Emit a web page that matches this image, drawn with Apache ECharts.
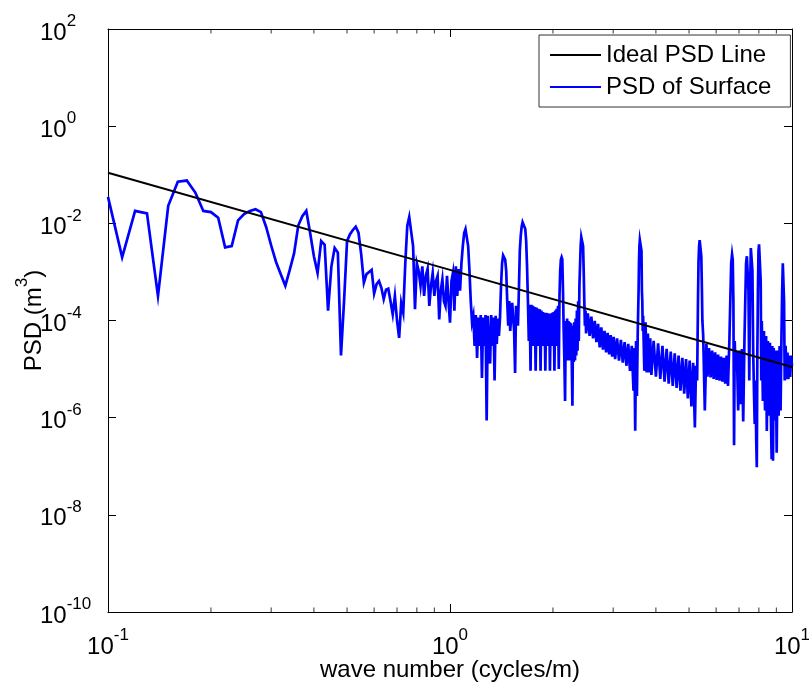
<!DOCTYPE html>
<html>
<head>
<meta charset="utf-8">
<script src="https://cdn.jsdelivr.net/npm/echarts@6/dist/echarts.min.js"></script>
<style>
html,body{margin:0;padding:0;background:#fff;}
#chart{width:809px;height:688px;}
</style>
</head>
<body>
<div id="chart"></div>
<script>
// ---- data ----
const seriesNames = ['Ideal PSD Line', 'PSD of Surface'];
const idealWaveNumber = [0.1, 1, 10];
const idealPSD = [0.11, 1.1e-3, 1.1e-5];

// [wave number (cycles/m), PSD (m^3)]
const surfacePSD = [
[0.10,3.5e-2],[0.11,2.0e-3],[0.12,1.8e-2],[0.13,1.6e-2],[0.14,3.2e-4],[0.15,2.3e-2],[0.16,7.2e-2],[0.17,7.6e-2],
[0.18,4.3e-2],[0.19,1.8e-2],[0.20,1.7e-2],[0.21,1.3e-2],[0.22,3.2e-3],[0.23,3.4e-3],[0.24,1.15e-2],[0.25,1.55e-2],
[0.26,1.8e-2],[0.27,1.95e-2],[0.28,1.7e-2],[0.29,8.4e-3],[0.30,3.5e-3],[0.31,1.6e-3],[0.32,9e-4],[0.33,5.2e-4],
[0.34,1.1e-3],[0.35,2.4e-3],[0.36,9e-3],[0.37,1.4e-2],[0.38,1.8e-2],[0.39,6.3e-3],[0.40,2.1e-3],[0.41,9.5e-4],
[0.42,4.3e-3],[0.43,3.6e-3],[0.44,1.6e-4],[0.45,1.3e-3],[0.46,3.1e-3],[0.47,2.5e-3],[0.48,1.9e-5],[0.49,2.5e-4],
[0.50,4.3e-3],[0.51,6e-3],[0.52,7.3e-3],[0.53,8.5e-3],[0.54,6.4e-3],[0.55,2.3e-3],[0.56,6e-4],[0.57,9e-4],
[0.58,1.0e-3],[0.59,1.1e-3],[0.60,3.6e-4],[0.61,5.6e-4],[0.62,6.5e-4],[0.63,4.7e-4],[0.64,2.75e-4],[0.65,4.3e-4],
[0.66,4.5e-4],[0.67,2.5e-4],[0.68,1.35e-4],[0.69,3.2e-4],[0.70,1.0e-4],[0.71,4.4e-5],[0.72,2.3e-4],[0.73,1.45e-4],
[0.74,1.5e-3],[0.75,8.8e-3],[0.76,1.35e-2],[0.77,1.3e-2],[0.78,3.4e-3],[0.79,1.7e-4],[0.80,1.5e-3],[0.81,1.05e-3],
[0.82,5.2e-4],[0.83,1.3e-3],[0.84,3.2e-4],[0.85,8.3e-4],[0.86,1.15e-3],[0.87,2.0e-4],[0.88,5.2e-4],[0.89,9.5e-4],
[0.90,3.2e-4],[0.91,6.5e-4],[0.92,8.3e-4],[0.93,1.05e-4],[0.94,4.1e-4],[0.95,7e-4],[0.96,2.5e-4],[0.97,2.0e-4],
[0.98,8.3e-4],[0.99,2.5e-4],[1.00,9e-5],[1.01,6.5e-4],[1.02,9.5e-4],[1.03,1.6e-4],[1.04,1.3e-3],[1.05,3.2e-4],
[1.06,1.15e-3],[1.07,4.1e-4],[1.08,1.5e-3],[1.09,3.4e-3],[1.10,6.3e-3],[1.11,7.6e-3],[1.12,7.3e-3],[1.13,3.4e-3],
[1.14,1.05e-3],[1.15,2.5e-4],[1.16,9.2e-5],[1.17,1.25e-4],[1.18,3.0e-5],[1.19,1.3e-4],[1.20,1.7e-5],[1.21,1.15e-4],
[1.22,3.0e-5],[1.23,1.3e-4],[1.24,6.6e-6],[1.25,1.15e-4],[1.26,3.0e-5],[1.27,1.3e-4],[1.28,8.7e-7],[1.29,1.25e-4],
[1.30,3.0e-5],[1.31,1.3e-5],[1.32,1.3e-4],[1.33,3.0e-5],[1.34,1.15e-4],[1.35,5.8e-6],[1.36,1.25e-4],[1.37,3.3e-5],
[1.38,1.1e-4],[1.39,4.8e-5],[1.40,1.1e-4],[1.41,5.2e-4],[1.42,1.5e-3],[1.43,2.2e-3],[1.44,2.4e-3],[1.45,1.8e-3],
[1.46,1.05e-3],[1.47,2.5e-4],[1.48,7.8e-5],[1.49,2.5e-4],[1.50,6.1e-5],[1.52,2.3e-4],[1.54,6.1e-5],[1.55,8.3e-6],
[1.56,2.0e-4],[1.58,7.8e-5],[1.59,4.1e-4],[1.60,2.7e-3],[1.61,5.5e-3],[1.62,8.5e-3],[1.63,1.05e-2],[1.64,1.12e-2],
[1.65,1.05e-2],[1.66,7.6e-3],[1.67,4.3e-3],[1.68,1.3e-3],[1.69,2.5e-4],[1.70,3.8e-5],[1.71,2.1e-4],[1.72,9.2e-6],
[1.73,2.1e-4],[1.74,3.0e-5],[1.75,2.0e-4],[1.76,3.0e-5],[1.77,1.9e-4],[1.78,9.2e-6],[1.79,1.85e-4],[1.80,3.0e-5],
[1.81,1.75e-4],[1.82,3.0e-5],[1.83,1.7e-4],[1.84,9.2e-6],[1.85,1.6e-4],[1.86,3.0e-5],[1.87,1.5e-4],[1.88,3.0e-5],
[1.89,1.45e-4],[1.90,9.2e-6],[1.91,1.45e-4],[1.92,3.0e-5],[1.93,1.4e-4],[1.94,3.0e-5],[1.95,1.4e-4],[1.96,9.2e-6],
[1.97,1.4e-4],[1.98,3.0e-5],[1.99,1.45e-4],[2.00,3.0e-5],[2.01,1.5e-4],[2.02,9.2e-6],[2.03,1.6e-4],[2.04,3.0e-5],
[2.05,1.75e-4],[2.06,3.0e-5],[2.07,2.0e-4],[2.08,1.0e-5],[2.09,3.2e-4],[2.10,1.05e-3],[2.11,1.8e-3],[2.12,2.0e-3],
[2.13,1.8e-3],[2.14,4.1e-4],[2.15,6.1e-5],[2.16,1.5e-5],[2.17,2.2e-6],[2.18,9.8e-5],[2.19,1.5e-5],[2.20,1.1e-4],
[2.21,1.6e-5],[2.22,9.8e-5],[2.23,1.5e-5],[2.24,9.2e-5],[2.25,1.5e-5],[2.26,8.8e-5],[2.27,1.4e-5],[2.28,1.77e-6],
[2.29,7.8e-5],[2.30,1.4e-5],[2.31,9.2e-5],[2.32,1.5e-5],[2.33,1.1e-4],[2.34,1.9e-5],[2.35,1.6e-4],[2.36,2.4e-5],
[2.37,2.5e-4],[2.38,3.8e-5],[2.39,5.2e-4],[2.40,1.3e-3],[2.41,3.4e-3],[2.42,5.2e-3],[2.43,5.7e-3],[2.44,5.2e-3],
[2.45,3.4e-3],[2.46,1.05e-3],[2.47,2.5e-4],[2.48,7.8e-5],[2.49,1.6e-4],[2.50,5.4e-5],[2.53,1.4e-4],[2.56,4.8e-5],
[2.59,1.2e-4],[2.62,4.3e-5],[2.65,9.8e-5],[2.68,3.6e-5],[2.71,8.5e-5],[2.74,2.8e-5],[2.77,7.2e-5],[2.80,2.5e-5],
[2.83,6.1e-5],[2.86,2.2e-5],[2.89,5.6e-5],[2.92,2.0e-5],[2.95,5.0e-5],[2.98,1.8e-5],[3.01,4.6e-5],[3.04,1.6e-5],
[3.08,4.3e-5],[3.12,1.5e-5],[3.16,4.0e-5],[3.20,1.35e-5],[3.24,3.6e-5],[3.28,1.17e-5],[3.32,3.3e-5],[3.36,9.2e-6],
[3.40,3.0e-5],[3.44,3.6e-6],[3.46,2.7e-5],[3.48,5.4e-7],[3.50,3.8e-5],[3.52,2.8e-6],[3.54,6.1e-5],[3.56,4.1e-4],
[3.57,1.7e-3],[3.58,3.4e-3],[3.59,4.5e-3],[3.60,4.7e-3],[3.61,4.7e-3],[3.62,4.3e-3],[3.63,2.7e-3],[3.64,4.1e-4],
[3.65,2.5e-4],[3.66,6.1e-5],[3.67,1.25e-4],[3.70,9.2e-6],[3.73,9.2e-5],[3.76,8.5e-6],[3.79,5.4e-5],[3.82,8.5e-6],
[3.85,4.3e-5],[3.88,7.6e-6],[3.94,3.8e-5],[4.00,7.0e-6],[4.06,3.4e-5],[4.12,6.3e-6],[4.18,3.0e-5],[4.24,5.5e-6],
[4.30,2.6e-5],[4.36,5.0e-6],[4.42,2.3e-5],[4.48,4.5e-6],[4.54,2.1e-5],[4.60,4.1e-6],[4.66,1.9e-5],[4.72,3.6e-6],
[4.78,1.7e-5],[4.84,3.1e-6],[4.90,1.6e-5],[4.96,2.5e-6],[5.02,1.5e-5],[5.08,1.7e-6],[5.14,1.35e-5],[5.20,6.3e-7],
[5.24,1.17e-5],[5.28,5.8e-6],[5.31,2.5e-4],[5.33,1.7e-3],[5.35,3.4e-3],[5.37,4.5e-3],[5.39,4.7e-3],[5.41,4.3e-3],
[5.43,2.1e-3],[5.45,5.2e-4],[5.47,9.8e-5],[5.50,4.8e-5],[5.56,1.4e-6],[5.62,3.3e-5],[5.66,7.0e-6],[5.72,2.7e-5],
[5.78,6.7e-6],[5.84,2.4e-5],[5.90,6.3e-6],[5.96,2.2e-5],[6.02,6.0e-6],[6.08,2.0e-5],[6.14,5.8e-6],[6.20,1.8e-5],
[6.26,5.5e-6],[6.32,1.7e-5],[6.38,5.0e-6],[6.44,1.9e-5],[6.50,4.5e-6],[6.56,3.8e-5],[6.60,2.5e-4],[6.64,1.5e-3],
[6.68,2.3e-3],[6.71,1.8e-3],[6.74,2.5e-4],[6.77,2.7e-7],[6.80,3.8e-5],[6.84,9.2e-6],[6.90,2.3e-5],[6.96,1.4e-6],
[7.02,2.4e-5],[7.08,1.9e-6],[7.14,2.6e-5],[7.20,8.3e-7],[7.26,3.8e-5],[7.30,2.5e-4],[7.34,1.5e-3],[7.38,2.1e-3],
[7.42,2.0e-3],[7.46,4.1e-4],[7.50,5.8e-6],[7.54,4.1e-4],[7.58,3.1e-3],[7.62,3.4e-3],[7.66,1.05e-3],[7.70,2.4e-5],
[7.74,3.6e-6],[7.78,7.4e-7],[7.82,5.8e-6],[7.86,3.4e-7],[7.89,9.5e-8],[7.92,2.4e-5],[7.95,4.1e-4],[7.98,2.7e-3],
[8.01,3.7e-3],[8.04,3.9e-3],[8.07,3.4e-3],[8.10,6.5e-4],[8.13,5.8e-6],[8.16,9.8e-5],[8.22,2.2e-6],[8.28,6.1e-5],
[8.34,1.4e-6],[8.40,4.8e-5],[8.44,5.3e-7],[8.50,3.8e-5],[8.56,1.1e-6],[8.62,3.5e-5],[8.68,8.7e-7],[8.72,1.4e-7],
[8.76,3.0e-5],[8.80,1.3e-7],[8.84,2.7e-5],[8.90,8.7e-7],[8.96,2.4e-5],[9.02,1.9e-7],[9.08,2.4e-5],[9.14,1.1e-6],
[9.20,3.0e-5],[9.26,1.4e-6],[9.32,6.1e-5],[9.36,4.1e-4],[9.40,1.5e-3],[9.44,1.5e-3],[9.48,2.5e-4],[9.52,5.8e-6],
[9.58,3.0e-5],[9.64,6.2e-6],[9.70,2.2e-5],[9.76,6.2e-6],[9.82,1.9e-5],[9.88,6.9e-6],[9.94,1.9e-5],[10.0,1.17e-5]
];

const xTickValues = [0.1, 1, 10];
const xTickExponents = ['-1', '0', '1'];
const yTickValues = [1e-10, 1e-8, 1e-6, 1e-4, 1e-2, 1, 1e2];
const yTickExponents = ['-10', '-8', '-6', '-4', '-2', '0', '2'];
const xMinorTickValues = [0.2,0.3,0.4,0.5,0.6,0.7,0.8,0.9,2,3,4,5,6,7,8,9];

const X_MIN = 0.1, X_MAX = 10, Y_MIN = 1e-10, Y_MAX = 1e2;
const FONT = '"Liberation Sans", Arial, Helvetica, sans-serif';
const FS = 24;
const FSE = 17;

function nearestIndex(values, v) {
  let best = 0, bd = Infinity;
  values.forEach((t, i) => {
    const d = Math.abs(Math.log10(t) - Math.log10(v));
    if (d < bd) { bd = d; best = i; }
  });
  return bd < 0.01 ? best : -1;
}
const richLabel = {
  b: { fontFamily: FONT, fontSize: FS, color: '#000', lineHeight: 32, verticalAlign: 'bottom' },
  e: { fontFamily: FONT, fontSize: FSE, color: '#000', lineHeight: 32, verticalAlign: 'top' }
};

const chart = echarts.init(document.getElementById('chart'), null, { renderer: 'canvas' });

const axisLineStyle = { color: '#000', width: 1 };
const minorTickSymbol = { symbol: 'rect', symbolSize: [1, 4.5] };

const option = {
  animation: false,
  backgroundColor: '#fff',
  grid: { left: 108, right: 17, top: 29, bottom: 76, containLabel: false, outerBoundsMode: 'none' },
  legend: {
    data: seriesNames,
    orient: 'vertical',
    left: 539,
    top: 35,
    icon: 'rect',
    itemWidth: 51,
    itemHeight: 2,
    itemGap: 8,
    padding: [8, 19, 8, 11],
    borderColor: '#333',
    borderWidth: 1,
    borderRadius: 0,
    backgroundColor: '#fff',
    textStyle: { fontFamily: FONT, fontSize: FS, color: '#000' }
  },
  xAxis: [
    {
      type: 'log', logBase: 10, min: X_MIN, max: X_MAX, position: 'bottom',
      axisLine: { show: true, lineStyle: axisLineStyle },
      axisTick: { show: true, inside: true, length: 8, lineStyle: axisLineStyle },
      splitLine: { show: false },
      axisLabel: {
        show: true, margin: 15, showMinLabel: true, showMaxLabel: true,
        formatter: function (v) {
          const i = nearestIndex(xTickValues, v);
          return i < 0 ? '' : '{b|10}{e|' + xTickExponents[i] + '}';
        },
        rich: richLabel
      },
      name: 'wave number (cycles/m)',
      nameLocation: 'middle',
      nameMoveOverlap: false,
      nameGap: 46,
      nameTextStyle: { fontFamily: FONT, fontSize: FS, color: '#000' }
    },
    {
      type: 'log', logBase: 10, min: X_MIN, max: X_MAX, position: 'top',
      axisLine: { show: true, lineStyle: axisLineStyle },
      axisTick: { show: true, inside: true, length: 8, lineStyle: axisLineStyle },
      splitLine: { show: false },
      axisLabel: { show: false }
    }
  ],
  yAxis: [
    {
      type: 'log', logBase: 10, min: Y_MIN, max: Y_MAX, interval: 2, position: 'left',
      axisLine: { show: true, lineStyle: axisLineStyle },
      axisTick: { show: true, inside: true, length: 8, lineStyle: axisLineStyle },
      splitLine: { show: false },
      axisLabel: {
        show: true, margin: 68, align: 'left', showMinLabel: true, showMaxLabel: true,
        formatter: function (v) {
          const i = nearestIndex(yTickValues, v);
          return i < 0 ? '' : '{b|10}{e|' + yTickExponents[i] + '}';
        },
        rich: richLabel
      },
      name: '{n|PSD (m}{s|3}{n|)}',
      nameLocation: 'middle',
      nameRotate: 90,
      nameMoveOverlap: false,
      nameGap: 62,
      nameTextStyle: {
        rich: {
          n: { fontFamily: FONT, fontSize: FS, color: '#000', lineHeight: 32, verticalAlign: 'bottom' },
          s: { fontFamily: FONT, fontSize: FSE, color: '#000', lineHeight: 32, verticalAlign: 'top' }
        }
      }
    },
    {
      type: 'log', logBase: 10, min: Y_MIN, max: Y_MAX, interval: 2, position: 'right',
      axisLine: { show: true, lineStyle: axisLineStyle },
      axisTick: { show: true, inside: true, length: 8, lineStyle: axisLineStyle },
      splitLine: { show: false },
      axisLabel: { show: false }
    }
  ],
  series: [
    {
      name: 'PSD of Surface',
      type: 'line',
      xAxisIndex: 0, yAxisIndex: 0,
      data: surfacePSD,
      showSymbol: false, symbol: 'none',
      sampling: null,
      lineStyle: { color: '#0000ff', width: 2.7, join: 'miter' },
      itemStyle: { color: '#0000ff' },
      z: 2
    },
    {
      name: 'Ideal PSD Line',
      type: 'line',
      xAxisIndex: 0, yAxisIndex: 0,
      data: idealWaveNumber.map((k, i) => [k, idealPSD[i]]),
      showSymbol: false, symbol: 'none',
      lineStyle: { color: '#000', width: 2 },
      itemStyle: { color: '#000' },
      z: 3
    },
    {
      name: 'minorTicksBottom',
      type: 'scatter',
      xAxisIndex: 0, yAxisIndex: 0,
      silent: true, clip: false,
      symbol: minorTickSymbol.symbol, symbolSize: minorTickSymbol.symbolSize,
      symbolOffset: [0, -2.25],
      itemStyle: { color: '#000' },
      emphasis: { disabled: true },
      data: xMinorTickValues.map(v => [v, Y_MIN]),
      z: 4
    },
    {
      name: 'minorTicksTop',
      type: 'scatter',
      xAxisIndex: 0, yAxisIndex: 0,
      silent: true, clip: false,
      symbol: minorTickSymbol.symbol, symbolSize: minorTickSymbol.symbolSize,
      symbolOffset: [0, 2.25],
      itemStyle: { color: '#000' },
      emphasis: { disabled: true },
      data: xMinorTickValues.map(v => [v, Y_MAX]),
      z: 4
    }
  ]
};
chart.setOption(option);
</script>
</body>
</html>
